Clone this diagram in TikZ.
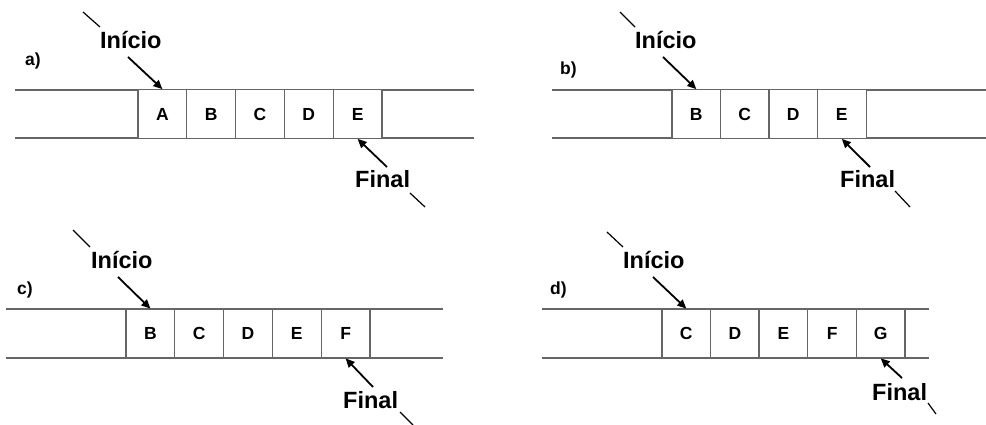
\documentclass[tikz,border=0pt]{standalone}
\usepackage{fontspec}
\setmainfont{Liberation Sans}
\usetikzlibrary{arrows.meta}
\begin{document}
\begin{tikzpicture}[x=1pt,y=-1pt,
 rail/.style={draw=black!60,line width=1.3pt},
 cell/.style={draw=black!60,fill=white,line width=1.3pt,minimum width=48.8pt,minimum height=48.5pt,inner sep=0,font=\bfseries\fontsize{17.5}{17.5}\selectfont},
 lbl/.style={anchor=base west,inner sep=0,font=\bfseries\fontsize{23.5}{23.5}\selectfont},
 tag/.style={anchor=base west,inner sep=0,font=\bfseries\fontsize{17.5}{17.5}\selectfont},
 ptr/.style={-{Triangle[length=9pt,width=8pt]},line width=1.8pt},
 tick/.style={line width=1.2pt}]
\useasboundingbox (0,0) rectangle (986,425);

% ---------- a ----------
\coordinate (aL1) at (15,90); \coordinate (aR1) at (474,90);
\coordinate (aL2) at (15,138); \coordinate (aR2) at (474,138);
\draw[rail] (aL1) -- (aR1); \draw[rail] (aL2) -- (aR2);
\node[cell] (a1) at (162.4,114) {A};
\node[cell] (a2) at (211.2,114) {B};
\node[cell] (a3) at (260.0,114) {C};
\node[cell] (a4) at (308.8,114) {D};
\node[cell] (a5) at (357.6,114) {E};
\node[tag] (atag) at (25,66) {a)};
\node[lbl] (aini) at (100,49) {Início};
\node[lbl] (afin) at (355,188) {Final};
\coordinate (ais1) at (83,12); \coordinate (ais2) at (100,27);
\coordinate (aia) at (128,57);
\coordinate (afa) at (387,167);
\coordinate (afs1) at (410,193); \coordinate (afs2) at (425,207);
\draw[tick] (ais1) -- (ais2);
\draw[ptr] (aia) -- (a1.north);
\draw[ptr] (afa) -- (a5.south);
\draw[tick] (afs1) -- (afs2);

% ---------- b ----------
\coordinate (bL1) at (552,90); \coordinate (bR1) at (986,90);
\coordinate (bL2) at (552,138); \coordinate (bR2) at (986,138);
\draw[rail] (bL1) -- (bR1); \draw[rail] (bL2) -- (bR2);
\node[cell] (b1) at (696.3,114) {B};
\node[cell] (b2) at (744.8,114) {C};
\node[cell] (b3) at (793.3,114) {D};
\node[cell] (b4) at (841.8,114) {E};
\node[tag] (btag) at (560,75) {b)};
\node[lbl] (bini) at (635,49) {Início};
\node[lbl] (bfin) at (840,188) {Final};
\coordinate (bis1) at (620,12); \coordinate (bis2) at (635,27);
\coordinate (bia) at (663,57);
\coordinate (bfa) at (870,167);
\coordinate (bfs1) at (895,191); \coordinate (bfs2) at (910,207);
\draw[tick] (bis1) -- (bis2);
\draw[ptr] (bia) -- (b1.north);
\draw[ptr] (bfa) -- (b4.south);
\draw[tick] (bfs1) -- (bfs2);

% ---------- c ----------
\coordinate (cL1) at (6,309); \coordinate (cR1) at (443,309);
\coordinate (cL2) at (6,358); \coordinate (cR2) at (443,358);
\draw[rail] (cL1) -- (cR1); \draw[rail] (cL2) -- (cR2);
\node[cell] (c1) at (150.4,333.5) {B};
\node[cell] (c2) at (199.2,333.5) {C};
\node[cell] (c3) at (248.0,333.5) {D};
\node[cell] (c4) at (296.8,333.5) {E};
\node[cell] (c5) at (345.6,333.5) {F};
\node[tag] (ctag) at (17,294) {c)};
\node[lbl] (cini) at (91,268) {Início};
\node[lbl] (cfin) at (343,408) {Final};
\coordinate (cis1) at (73,230); \coordinate (cis2) at (90,247);
\coordinate (cia) at (118,277);
\coordinate (cfa) at (373,387);
\coordinate (cfs1) at (400,412); \coordinate (cfs2) at (413,425);
\draw[tick] (cis1) -- (cis2);
\draw[ptr] (cia) -- (c1.north);
\draw[ptr] (cfa) -- (c5.south);
\draw[tick] (cfs1) -- (cfs2);

% ---------- d ----------
\coordinate (dL1) at (542,309); \coordinate (dR1) at (929,309);
\coordinate (dL2) at (542,358); \coordinate (dR2) at (929,358);
\draw[rail] (dL1) -- (dR1); \draw[rail] (dL2) -- (dR2);
\node[cell] (d1) at (686.3,333.5) {C};
\node[cell] (d2) at (734.9,333.5) {D};
\node[cell] (d3) at (783.5,333.5) {E};
\node[cell] (d4) at (832.1,333.5) {F};
\node[cell] (d5) at (880.7,333.5) {G};
\node[tag] (dtag) at (550,294) {d)};
\node[lbl] (dini) at (623,268) {Início};
\node[lbl] (dfin) at (872,400) {Final};
\coordinate (dis1) at (607,232); \coordinate (dis2) at (623,247);
\coordinate (dia) at (653,277);
\coordinate (dfa) at (902,378);
\coordinate (dfs1) at (928,403); \coordinate (dfs2) at (936,414);
\draw[tick] (dis1) -- (dis2);
\draw[ptr] (dia) -- (d1.north);
\draw[ptr] (dfa) -- (d5.south);
\draw[tick] (dfs1) -- (dfs2);
\end{tikzpicture}
\end{document}
